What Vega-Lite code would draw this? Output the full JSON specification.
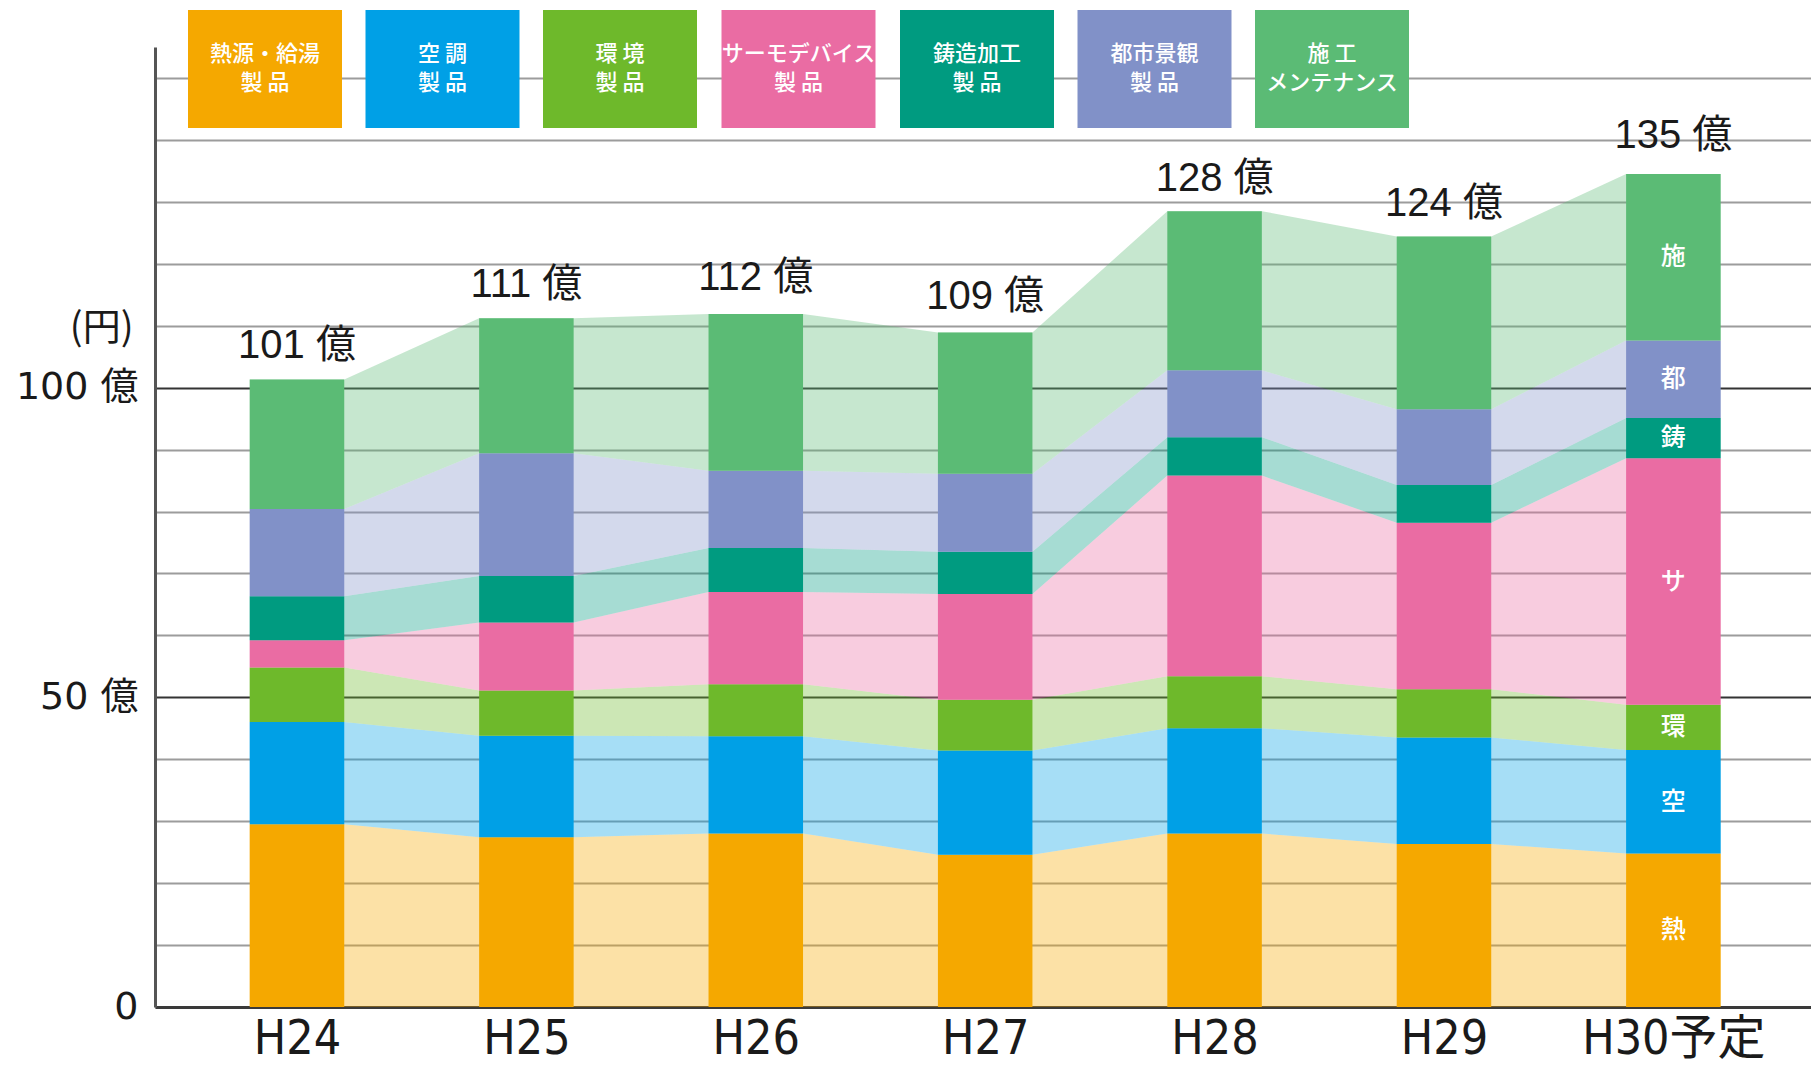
{
  "$schema": "https://vega.github.io/schema/vega-lite/v6.json",
  "width": 1656,
  "height": 960,
  "autosize": {"type": "none"},
  "padding": {"left": 155, "top": 47, "right": 0, "bottom": 59},
  "background": "white",
  "config": {"view": {"stroke": null}, "font": "Noto Sans CJK JP"},
  "datasets": {
    "sales": [
      {"year": "H24", "cat": "熱源・給湯製品", "v": 29.5},
      {"year": "H24", "cat": "空調製品", "v": 16.5},
      {"year": "H24", "cat": "環境製品", "v": 8.8},
      {"year": "H24", "cat": "サーモデバイス製品", "v": 4.4},
      {"year": "H24", "cat": "鋳造加工製品", "v": 7.1},
      {"year": "H24", "cat": "都市景観製品", "v": 14.1},
      {"year": "H24", "cat": "施工メンテナンス", "v": 20.9},
      {"year": "H25", "cat": "熱源・給湯製品", "v": 27.4},
      {"year": "H25", "cat": "空調製品", "v": 16.4},
      {"year": "H25", "cat": "環境製品", "v": 7.3},
      {"year": "H25", "cat": "サーモデバイス製品", "v": 11.0},
      {"year": "H25", "cat": "鋳造加工製品", "v": 7.5},
      {"year": "H25", "cat": "都市景観製品", "v": 19.8},
      {"year": "H25", "cat": "施工メンテナンス", "v": 21.8},
      {"year": "H26", "cat": "熱源・給湯製品", "v": 28.0},
      {"year": "H26", "cat": "空調製品", "v": 15.7},
      {"year": "H26", "cat": "環境製品", "v": 8.4},
      {"year": "H26", "cat": "サーモデバイス製品", "v": 14.9},
      {"year": "H26", "cat": "鋳造加工製品", "v": 7.1},
      {"year": "H26", "cat": "都市景観製品", "v": 12.5},
      {"year": "H26", "cat": "施工メンテナンス", "v": 25.3},
      {"year": "H27", "cat": "熱源・給湯製品", "v": 24.6},
      {"year": "H27", "cat": "空調製品", "v": 16.8},
      {"year": "H27", "cat": "環境製品", "v": 8.2},
      {"year": "H27", "cat": "サーモデバイス製品", "v": 17.1},
      {"year": "H27", "cat": "鋳造加工製品", "v": 6.8},
      {"year": "H27", "cat": "都市景観製品", "v": 12.6},
      {"year": "H27", "cat": "施工メンテナンス", "v": 22.8},
      {"year": "H28", "cat": "熱源・給湯製品", "v": 28.0},
      {"year": "H28", "cat": "空調製品", "v": 17.0},
      {"year": "H28", "cat": "環境製品", "v": 8.4},
      {"year": "H28", "cat": "サーモデバイス製品", "v": 32.4},
      {"year": "H28", "cat": "鋳造加工製品", "v": 6.2},
      {"year": "H28", "cat": "都市景観製品", "v": 10.8},
      {"year": "H28", "cat": "施工メンテナンス", "v": 25.7},
      {"year": "H29", "cat": "熱源・給湯製品", "v": 26.3},
      {"year": "H29", "cat": "空調製品", "v": 17.2},
      {"year": "H29", "cat": "環境製品", "v": 7.8},
      {"year": "H29", "cat": "サーモデバイス製品", "v": 26.9},
      {"year": "H29", "cat": "鋳造加工製品", "v": 6.1},
      {"year": "H29", "cat": "都市景観製品", "v": 12.2},
      {"year": "H29", "cat": "施工メンテナンス", "v": 27.9},
      {"year": "H30予定", "cat": "熱源・給湯製品", "v": 24.8},
      {"year": "H30予定", "cat": "空調製品", "v": 16.7},
      {"year": "H30予定", "cat": "環境製品", "v": 7.3},
      {"year": "H30予定", "cat": "サーモデバイス製品", "v": 39.8},
      {"year": "H30予定", "cat": "鋳造加工製品", "v": 6.5},
      {"year": "H30予定", "cat": "都市景観製品", "v": 12.5},
      {"year": "H30予定", "cat": "施工メンテナンス", "v": 26.9}
    ],
    "totals": [
      {"year": "H24", "total": 101},
      {"year": "H25", "total": 111},
      {"year": "H26", "total": 112},
      {"year": "H27", "total": 109},
      {"year": "H28", "total": 128},
      {"year": "H29", "total": 124},
      {"year": "H30予定", "total": 135}
    ]
  },
  "layer": [
    {
      "data": {"name": "sales"},
      "transform": [
        {"calculate": "indexof(['熱源・給湯製品','空調製品','環境製品','サーモデバイス製品','鋳造加工製品','都市景観製品','施工メンテナンス'], datum.cat)", "as": "ord"},
        {"calculate": "indexof(['H24','H25','H26','H27','H28','H29','H30予定'], datum.year) + 1", "as": "idx"},
        {"stack": "v", "groupby": ["year"], "sort": [{"field": "ord", "order": "ascending"}], "as": ["y0", "y1"]},
        {"calculate": "[-0.206, 0.206]", "as": "e"},
        {"flatten": ["e"]},
        {"calculate": "datum.idx + datum.e", "as": "xe"}
      ],
      "mark": {"type": "area", "opacity": 0.35, "interpolate": "linear"},
      "encoding": {
        "x": {
          "field": "xe", "type": "quantitative",
          "scale": {"domain": [0.381, 7.6], "nice": false, "zero": false},
          "axis": {
            "values": [1, 2, 3, 4, 5, 6, 7],
            "labelExpr": "['H24','H25','H26','H27','H28','H29','H30予定'][datum.value - 1]",
            "title": null, "grid": false, "ticks": false, "tickSize": 0,
            "domainColor": "#3a3a3a", "domainWidth": 3,
            "labelFont": "DejaVu Sans Condensed, Liberation Sans Narrow, Liberation Sans, Noto Sans CJK JP",
            "labelFontSize": 48, "labelColor": "#1a1a1a",
            "labelBaseline": "alphabetic", "labelPadding": 46,
            "labelFlush": false, "labelOverlap": false, "labelLimit": 0
          }
        },
        "y": {
          "field": "y1", "type": "quantitative",
          "scale": {"domain": [0, 155], "nice": false},
          "axis": {
            "values": [0, 10, 20, 30, 40, 50, 60, 70, 80, 90, 100, 110, 120, 130, 140, 150],
            "labelExpr": "datum.value == 0 ? '0' : (datum.value == 50 || datum.value == 100) ? datum.value + ' 億' : ''",
            "grid": true,
            "gridColor": {"condition": {"test": "datum.value == 50 || datum.value == 100", "value": "#333333"}, "value": "#9c9c9c"},
            "gridWidth": 2,
            "ticks": false, "tickSize": 0,
            "domainColor": "#555555", "domainWidth": 3,
            "labelFont": "DejaVu Sans, Noto Sans CJK JP", "labelFontSize": 38,
            "labelColor": "#1a1a1a", "labelPadding": 17, "labelOverlap": false,
            "title": "(円)", "titleAngle": 0, "titleFont": "Noto Sans CJK JP",
            "titleFontSize": 38, "titleFontWeight": "normal", "titleColor": "#1a1a1a",
            "titleAlign": "right", "titleBaseline": "middle", "titleX": -22, "titleY": 281
          }
        },
        "y2": {"field": "y0"},
        "color": {
          "field": "cat", "type": "nominal",
          "scale": {
            "domain": ["熱源・給湯製品", "空調製品", "環境製品", "サーモデバイス製品", "鋳造加工製品", "都市景観製品", "施工メンテナンス"],
            "range": ["#F5A800", "#00A0E6", "#6EB92B", "#EA6CA3", "#009B80", "#8191C8", "#5BBB75"]
          },
          "legend": {
            "orient": "none", "legendX": 33, "legendY": -55,
            "direction": "horizontal", "columns": 7, "columnPadding": 23.5, "rowPadding": 0,
            "title": null, "padding": 0,
            "symbolType": "M-1,-0.766H1V0.766H-1Z", "symbolSize": 23716,
            "symbolStrokeWidth": 0, "symbolOpacity": 1,
            "labelColor": "white", "labelFontSize": 22, "labelFont": "Noto Sans CJK JP", "labelFontWeight": 500,
            "labelAlign": "center", "labelBaseline": "middle", "labelOffset": -77, "labelLimit": 0,
            "labelExpr": "datum.label == '施工メンテナンス' ? ['施 工', 'メンテナンス'] : [datum.label == '空調製品' ? '空 調' : datum.label == '環境製品' ? '環 境' : replace(datum.label, '製品', ''), '製 品']",
            "encode": {"labels": {"update": {"lineHeight": {"value": 29}, "dy": {"value": -15}}}}
          }
        }
      }
    },
    {
      "data": {"name": "sales"},
      "transform": [
        {"calculate": "indexof(['熱源・給湯製品','空調製品','環境製品','サーモデバイス製品','鋳造加工製品','都市景観製品','施工メンテナンス'], datum.cat)", "as": "ord"},
        {"calculate": "indexof(['H24','H25','H26','H27','H28','H29','H30予定'], datum.year) + 1", "as": "idx"},
        {"stack": "v", "groupby": ["year"], "sort": [{"field": "ord", "order": "ascending"}], "as": ["y0", "y1"]},
        {"calculate": "datum.idx - 0.206", "as": "xl"},
        {"calculate": "datum.idx + 0.206", "as": "xr"}
      ],
      "mark": {"type": "bar"},
      "encoding": {
        "x": {"field": "xl", "type": "quantitative"},
        "x2": {"field": "xr"},
        "y": {"field": "y1", "type": "quantitative"},
        "y2": {"field": "y0"},
        "color": {"field": "cat", "type": "nominal"}
      }
    },
    {
      "data": {"name": "sales"},
      "transform": [
        {"calculate": "indexof(['熱源・給湯製品','空調製品','環境製品','サーモデバイス製品','鋳造加工製品','都市景観製品','施工メンテナンス'], datum.cat)", "as": "ord"},
        {"calculate": "indexof(['H24','H25','H26','H27','H28','H29','H30予定'], datum.year) + 1", "as": "idx"},
        {"stack": "v", "groupby": ["year"], "sort": [{"field": "ord", "order": "ascending"}], "as": ["y0", "y1"]},
        {"filter": "datum.year == 'H30予定'"},
        {"calculate": "(datum.y0 + datum.y1) / 2", "as": "mid"},
        {"calculate": "substring(datum.cat, 0, 1)", "as": "short"}
      ],
      "mark": {"type": "text", "color": "white", "fontSize": 25, "font": "Noto Sans CJK JP", "fontWeight": 500, "align": "center", "baseline": "middle"},
      "encoding": {
        "x": {"field": "idx", "type": "quantitative"},
        "y": {"field": "mid", "type": "quantitative"},
        "text": {"field": "short"}
      }
    },
    {
      "data": {"name": "totals"},
      "transform": [
        {"calculate": "indexof(['H24','H25','H26','H27','H28','H29','H30予定'], datum.year) + 1", "as": "idx"},
        {"calculate": "format(datum.total, 'd') + ' 億'", "as": "label"}
      ],
      "mark": {"type": "text", "color": "#1a1a1a", "fontSize": 40, "font": "Liberation Sans, Noto Sans CJK JP", "align": "center", "baseline": "alphabetic", "dy": -23},
      "encoding": {
        "x": {"field": "idx", "type": "quantitative"},
        "y": {"field": "total", "type": "quantitative"},
        "text": {"field": "label"}
      }
    }
  ]
}
